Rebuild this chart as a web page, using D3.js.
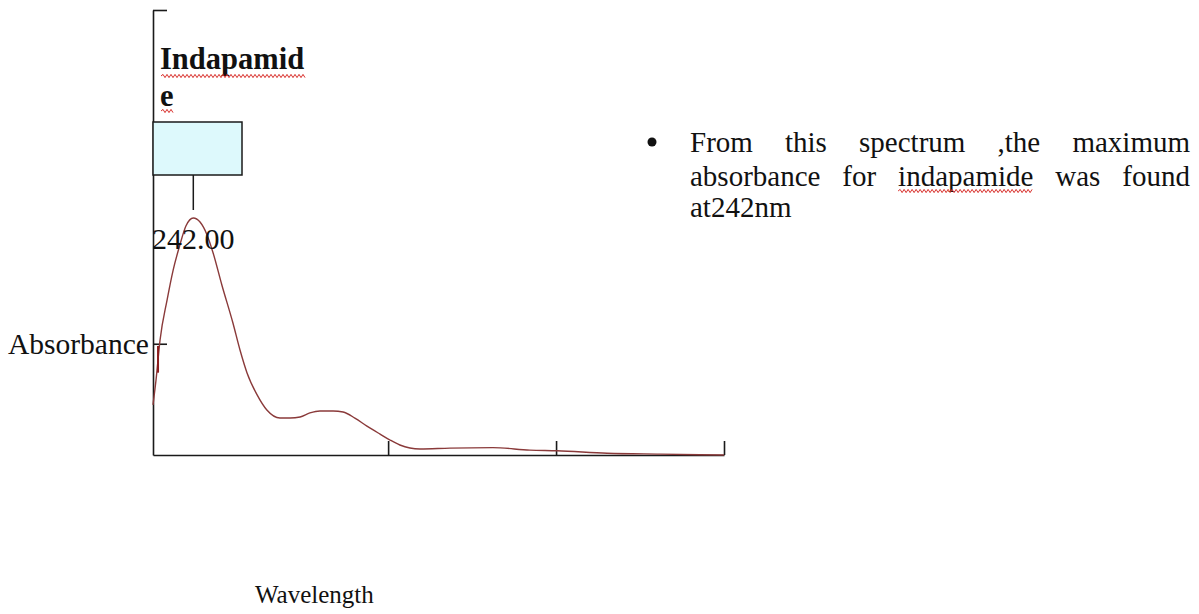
<!DOCTYPE html>
<html>
<head>
<meta charset="utf-8">
<script src="https://cdn.jsdelivr.net/npm/d3@7"></script>
<style>
  html, body { margin: 0; padding: 0; background: #fff; }
  svg { display: block; }
  text { font-family: "Liberation Serif", "Times New Roman", serif; fill: #111; }
</style>
</head>
<body>
<svg id="chart" width="1199" height="614"></svg>
<script>
// ---- data ----
const wavelengths = [230.0, 230.9, 232.1, 234.2, 236.0, 238.0, 239.8, 242.0, 244.0, 246.1, 247.9, 250.5, 253.8, 255.9, 258.0, 261.0, 263.9, 267.8, 270.8, 273.8, 276.7, 279.7, 283.6, 286.6, 290.1, 293.7, 297.6, 300.6, 303.5, 309.5, 318.4, 331.2, 342.2, 350.3, 365.2, 381.0, 400.0];
const absorbance  = [0.225, 0.337, 0.517, 0.697, 0.831, 0.944, 1.029, 1.065, 1.047, 0.989, 0.908, 0.764, 0.593, 0.472, 0.369, 0.270, 0.202, 0.166, 0.166, 0.171, 0.189, 0.198, 0.198, 0.193, 0.166, 0.130, 0.094, 0.067, 0.045, 0.027, 0.031, 0.033, 0.022, 0.019, 0.008, 0.004, 0.000];
const xTickValues = [300, 350, 400];
const yTickValues = [0.5, 2.0];
const peakWavelength = 242.0;
const peakLabel = "242.00";
const compoundLabel = ["Indapamid", "e"];
const xAxisTitle = "Wavelength";
const yAxisTitle = "Absorbance";
const noteLines = [
  ["From", "this", "spectrum", ",the", "maximum"],
  ["absorbance", "for", "indapamide", "was", "found"],
  ["at242nm"]
];
const misspelled = ["indapamide"];

// ---- layout ----
const FONT = "'Liberation Serif', 'Times New Roman', serif";
const svg = d3.select("#chart");
const x = d3.scaleLinear().domain([230, 400]).range([153, 724]);
const y = d3.scaleLinear().domain([0, 2]).range([455, 10]);
const axisColor = "#1a1a1a";
const curveColor = "#8a3a3a";

// axes
const gx = svg.append("g").attr("transform", `translate(0,${y(0)})`)
  .call(d3.axisBottom(x).tickValues(xTickValues).tickSizeInner(-14).tickSizeOuter(0).tickFormat(""));
const gy = svg.append("g").attr("transform", `translate(${x(230)},0)`)
  .call(d3.axisLeft(y).tickValues(yTickValues).tickSizeInner(-14).tickSizeOuter(0).tickFormat(""));
[gx, gy].forEach(g => {
  g.selectAll("path.domain").attr("stroke", axisColor).attr("stroke-width", 1.6);
  g.selectAll(".tick line").attr("stroke", axisColor).attr("stroke-width", 1.6);
});

// curve
const data = wavelengths.map((w, i) => ({w, a: absorbance[i]}));
const line = d3.line().x(d => x(d.w)).y(d => y(d.a)).curve(d3.curveMonotoneX);
svg.append("path").datum(data)
  .attr("d", line).attr("fill", "none")
  .attr("stroke", curveColor).attr("stroke-width", 1.4);

// small dark red segment near the y axis
svg.append("line")
  .attr("x1", x(231.5)).attr("x2", x(231.5))
  .attr("y1", y(0.49)).attr("y2", y(0.37))
  .attr("stroke", "#8b1c1c").attr("stroke-width", 2);

// peak annotation box
const peakX = x(peakWavelength);
svg.append("rect")
  .attr("x", x(230)).attr("y", 122)
  .attr("width", 89).attr("height", 53)
  .attr("fill", "#ddf9fc").attr("stroke", axisColor).attr("stroke-width", 1.5);
svg.append("line")
  .attr("x1", peakX).attr("x2", peakX).attr("y1", 175).attr("y2", 210)
  .attr("stroke", axisColor).attr("stroke-width", 1.5);

function label(txt, xx, yy, size, bold) {
  return svg.append("text").attr("x", xx).attr("y", yy)
    .attr("font-family", FONT).attr("font-size", size)
    .attr("font-weight", bold ? "bold" : "normal").text(txt);
}
// text labels
label(peakLabel, 152, 249, 30);
label(compoundLabel[0], 160, 69, 30.5, true);
label(compoundLabel[1], 160, 106, 30.5, true);
label(yAxisTitle, 8, 354, 29.5);
label(xAxisTitle, 255, 603, 25);

// wavy underline helper
function wavy(x0, x1, yy) {
  const p = d3.path();
  p.moveTo(x0, yy);
  let up = true;
  for (let xx = x0 + 2; xx <= x1; xx += 2) {
    p.lineTo(xx, yy + (up ? -1.6 : 1.6));
    up = !up;
  }
  svg.append("path").attr("d", p.toString()).attr("fill", "none")
    .attr("stroke", "#d9302c").attr("stroke-width", 1);
}
wavy(161, 305, 76);
wavy(161, 174, 111);

// bullet note (justified)
svg.append("circle").attr("cx", 652).attr("cy", 142).attr("r", 4.5).attr("fill", "#111");
const noteLeft = 690, noteRight = 1190, noteBase = [152, 186, 217], noteSize = 29;
noteLines.forEach((words, li) => {
  const g = svg.append("g");
  const nodes = words.map(w => g.append("text")
    .attr("font-family", FONT).attr("font-size", noteSize)
    .attr("y", noteBase[li]).text(w));
  const widths = nodes.map(n => n.node().getComputedTextLength());
  const total = d3.sum(widths);
  const justify = li < noteLines.length - 1 && words.length > 1;
  const gap = justify ? (noteRight - noteLeft - total) / (words.length - 1) : 7;
  let cx = noteLeft;
  nodes.forEach((n, i) => {
    n.attr("x", cx);
    if (misspelled.includes(words[i])) wavy(cx, cx + widths[i], noteBase[li] + 5);
    cx += widths[i] + gap;
  });
});
</script>
</body>
</html>
